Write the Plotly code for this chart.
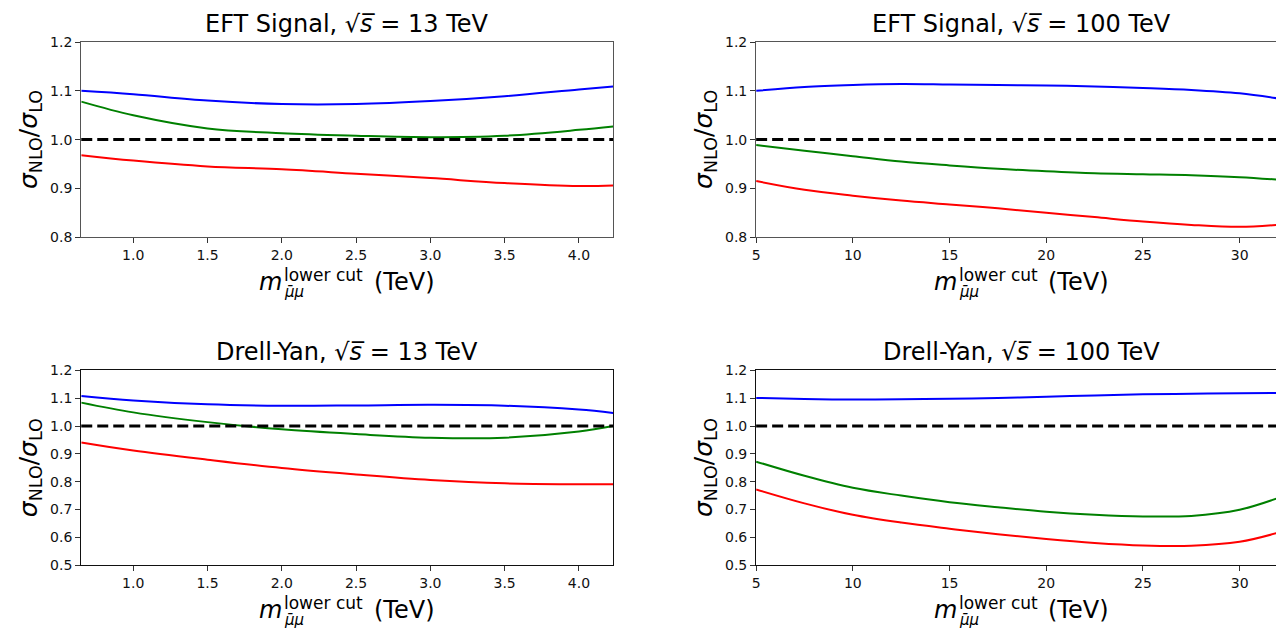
import plotly.graph_objects as go

W, H = 1276, 637

# ---- data -------------------------------------------------------------
x13 = [0.65, 1.0, 1.5, 2.0, 2.5, 3.0, 3.5, 4.0, 4.23]
x100 = [5, 7.5, 10, 12.5, 15, 17.5, 20, 22.5, 25, 27.5, 30, 31.9]

eft13_blue = [1.100, 1.093, 1.080, 1.073, 1.073, 1.079, 1.089, 1.103, 1.109]
eft13_green = [1.078, 1.050, 1.023, 1.013, 1.008, 1.005, 1.008, 1.020, 1.027]
eft13_red = [0.968, 0.957, 0.945, 0.939, 0.930, 0.921, 0.911, 0.905, 0.906]

eft100_blue = [1.100, 1.108, 1.112, 1.114, 1.113, 1.112, 1.111, 1.109, 1.106, 1.102, 1.095, 1.085]
eft100_green = [0.989, 0.977, 0.966, 0.955, 0.947, 0.940, 0.935, 0.931, 0.929, 0.927, 0.923, 0.918]
eft100_red = [0.915, 0.897, 0.885, 0.875, 0.867, 0.859, 0.850, 0.841, 0.832, 0.825, 0.821, 0.825]

dy13_blue = [1.108, 1.092, 1.078, 1.073, 1.074, 1.076, 1.073, 1.059, 1.047]
dy13_green = [1.084, 1.049, 1.014, 0.988, 0.971, 0.958, 0.958, 0.980, 1.000]
dy13_red = [0.941, 0.912, 0.879, 0.849, 0.826, 0.806, 0.794, 0.791, 0.791]

dy100_blue = [1.101, 1.097, 1.095, 1.096, 1.098, 1.101, 1.105, 1.110, 1.114, 1.116, 1.118, 1.119]
dy100_green = [0.872, 0.821, 0.778, 0.750, 0.726, 0.708, 0.692, 0.681, 0.675, 0.677, 0.699, 0.739]
dy100_red = [0.772, 0.722, 0.681, 0.653, 0.631, 0.611, 0.594, 0.580, 0.571, 0.570, 0.584, 0.615]

ticks13 = [1.0, 1.5, 2.0, 2.5, 3.0, 3.5, 4.0]
ticks100 = [5, 10, 15, 20, 25, 30]
yticks_eft = [0.8, 0.9, 1.0, 1.1, 1.2]
yticks_dy = [0.5, 0.6, 0.7, 0.8, 0.9, 1.0, 1.1, 1.2]

SQRT_S = "√<i>s\u0305</i>"
titles = [
    f"EFT Signal, {SQRT_S} = 13 TeV",
    f"EFT Signal, {SQRT_S} = 100 TeV",
    f"Drell-Yan, {SQRT_S} = 13 TeV",
    f"Drell-Yan, {SQRT_S} = 100 TeV",
]

colors = ["#0000ff", "#008000", "#ff0000"]
FONT = "DejaVu Sans"

# ---- panel geometry (pixels) ------------------------------------------
panels = [
    # (x data, curves, x range, y range, x ticks, y ticks, left, right, top, bottom)
    (x13, [eft13_blue, eft13_green, eft13_red], [0.65, 4.23], [0.8, 1.2],
     ticks13, yticks_eft, 77.5, 611, 35, 235),
    (x100, [eft100_blue, eft100_green, eft100_red], [5, 31.88], [0.8, 1.2],
     ticks100, yticks_eft, 754.5, 1276, 35, 235),
    (x13, [dy13_blue, dy13_green, dy13_red], [0.65, 4.23], [0.5, 1.2],
     ticks13, yticks_dy, 77.5, 611, 371.7, 571.5),
    (x100, [dy100_blue, dy100_green, dy100_red], [5, 31.88], [0.5, 1.2],
     ticks100, yticks_dy, 754.5, 1276, 371.7, 571.5),
]


def px(x):
    return x / W


def py(y):
    return 1 - y / H


def text_ann(text, x, y, size, xanchor="left", angle=0):
    return dict(text=text, x=px(x), y=py(y), xref="paper", yref="paper",
                xanchor=xanchor, yanchor="middle", textangle=angle,
                showarrow=False, font=dict(family=FONT, size=size, color="black"))


fig = go.Figure()
annotations = []
shapes = []

for i, (xs, curves, xr, yr, xt, yt, left, right, top, bottom) in enumerate(panels):
    n = "" if i == 0 else str(i + 1)
    xa, ya = "x" + n, "y" + n
    right_panel = i in (1, 3)
    top_row = i in (0, 1)

    for ys, c in zip(curves, colors):
        fig.add_trace(go.Scatter(
            x=xs, y=ys, mode="lines", xaxis=xa, yaxis=ya,
            line=dict(color=c, width=2, shape="spline", smoothing=1.0),
            hoverinfo="skip", showlegend=False))

    # reference line at ratio 1
    shapes.append(dict(type="line", xref=xa + " domain", yref=ya,
                       x0=0, x1=1, y0=1.0, y1=1.0,
                       line=dict(color="black", width=3, dash="11px,5px")))

    spine = "#555" if top_row else "#111"
    common = dict(showgrid=False, zeroline=False, showline=True,
                  linecolor=spine, linewidth=1.2, ticks="outside",
                  ticklen=5, tickwidth=1, tickcolor="#333",
                  tickfont=dict(family=FONT, size=14, color="#111"))
    fig.update_layout(**{
        ("xaxis" + n): dict(common, domain=[px(left), px(right)], range=xr,
                            tickvals=xt,
                            tickformat="d" if right_panel else ".1f",
                            mirror=True, anchor=ya),
        ("yaxis" + n): dict(common, domain=[py(bottom), py(top)], range=yr,
                            tickvals=yt, tickformat=".1f",
                            mirror=not right_panel, anchor=xa),
    })

    cx = 1020.5 if right_panel else (left + right) / 2
    # panel title
    annotations.append(text_ann(titles[i], cx, top - 19, 24, xanchor="center"))

    # x-axis label: m, stacked sub/superscripts, unit
    annotations.append(text_ann("<i>m</i>", cx - 90, bottom + 46.5, 24))
    annotations.append(text_ann("lower cut", cx - 65, bottom + 38.5, 17))
    annotations.append(text_ann("<i>μ\u0304μ</i>", cx - 65, bottom + 56, 15))
    annotations.append(text_ann("(TeV)", cx + 25, bottom + 46.5, 24))

    # y-axis label
    annotations.append(text_ann("<i>σ</i><sub>NLO</sub>/<i>σ</i><sub>LO</sub>",
                                left - 52, (top + bottom) / 2, 25,
                                xanchor="center", angle=-90))

fig.update_layout(
    width=W, height=H,
    margin=dict(l=0, r=0, t=0, b=0),
    paper_bgcolor="white", plot_bgcolor="white",
    annotations=annotations, shapes=shapes,
    showlegend=False,
)

fig.write_html("out.html")
